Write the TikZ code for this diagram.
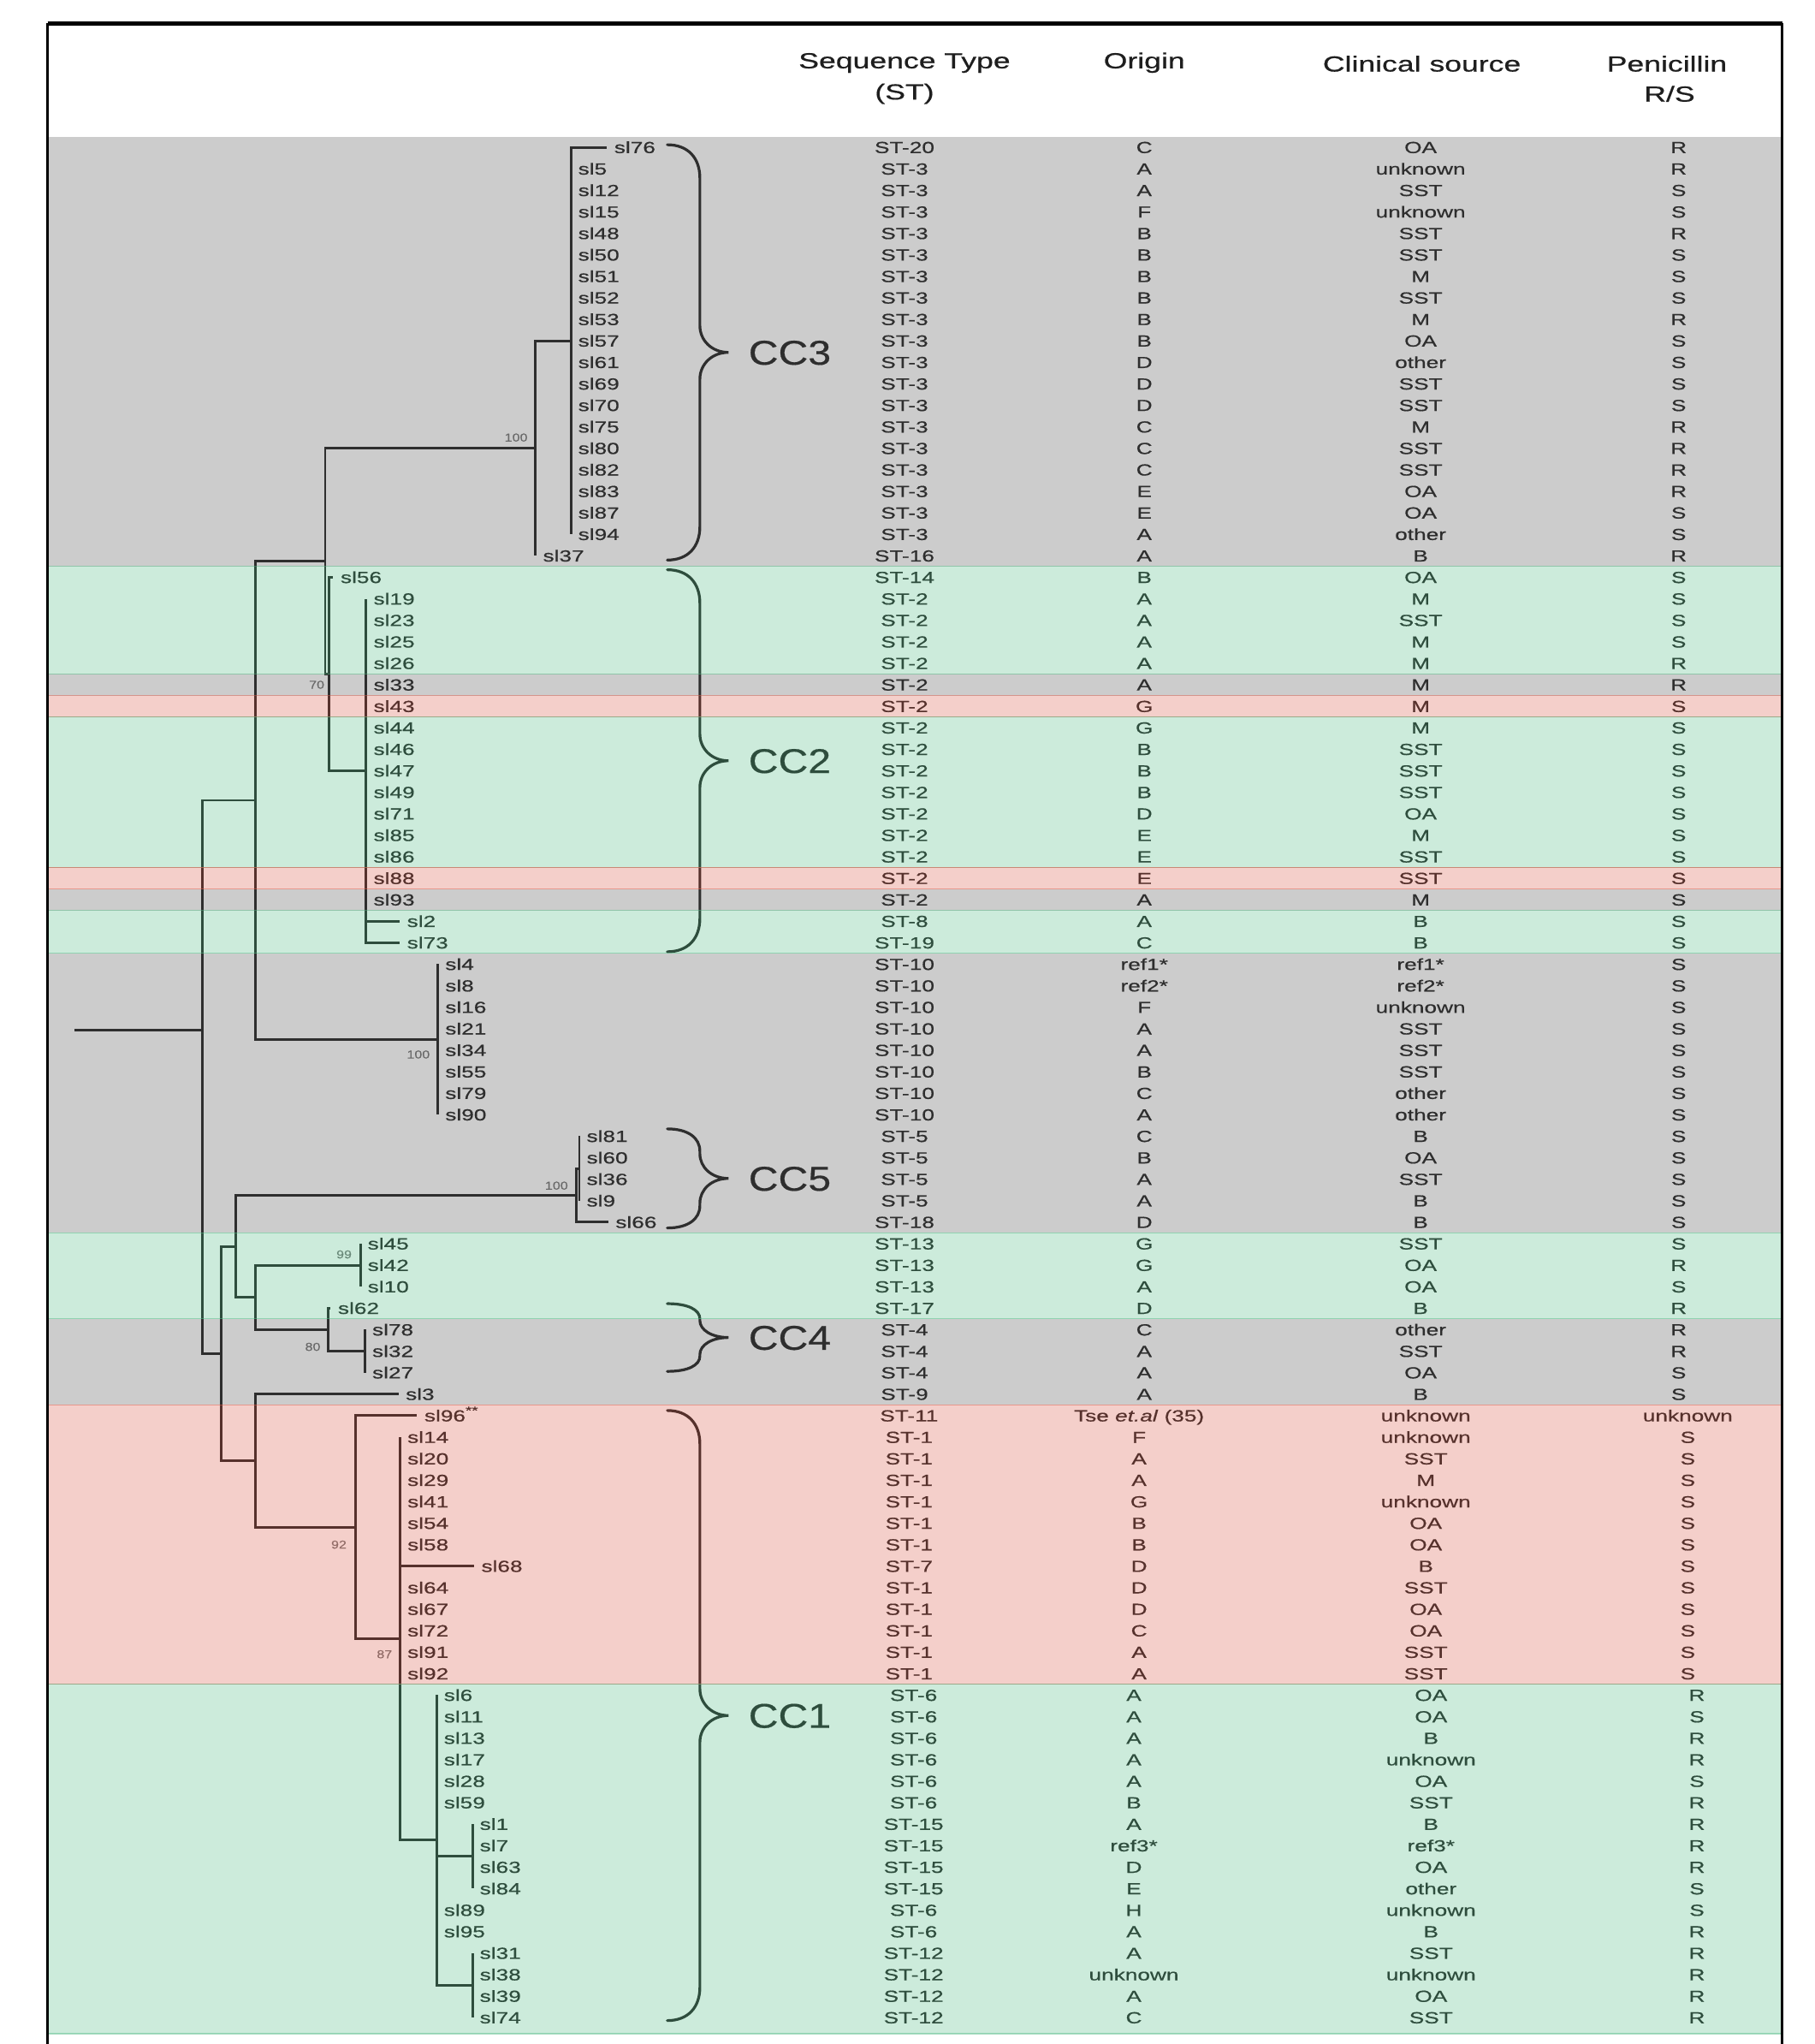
\documentclass[tikz,border=0pt]{standalone}
\usepackage{fontspec}
\setmainfont{Liberation Sans}[FakeStretch=1.4, FakeBold=0.6]
\newfontfamily\cladefont{Liberation Sans}[FakeStretch=1.2, FakeBold=0.4]
\usetikzlibrary{calc}
\definecolor{bandgray}{RGB}{85,85,85}
\definecolor{bandgreen}{RGB}{85,188,135}
\definecolor{bandpink}{RGB}{218,95,78}
\definecolor{ink}{RGB}{30,30,30}
\tikzset{
  head/.style={font=\fontsize{9.5}{11}\selectfont, inner sep=0pt,
               text height=7pt, text depth=0pt, text=ink},
  cell/.style={font=\fontsize{7}{8}\selectfont, inner sep=0pt,
               text height=5pt, text depth=0pt, text=ink},
  tip/.style={cell, anchor=west, inner xsep=3pt},
  boot/.style={font=\cladefont\fontsize{5}{6}\selectfont, inner sep=0pt, text=black!55},
  cclabel/.style={font=\cladefont\fontsize{15}{17}\selectfont, anchor=west, inner sep=0pt,
                  text height=10.7pt, text depth=0pt, text=ink},
  branch/.style={draw=ink, line width=1.1pt},
  cbrace/.style={draw=ink, line width=1.2pt, line cap=round},
  band/.style={fill=#1, fill opacity=0.3, draw=#1, draw opacity=0.5, line width=0.4pt},
  plainband/.style={fill=#1, fill opacity=0.3},
}
% tips of one clade: parent, x, list name/row
\newcommand\clade[3]{%
  \foreach \n/\r in {#3}{%
    \node[tip] (\n) at (#2,\r) {\n};
    \draw[branch] (#1) |- (\n.west);
  }}
% curly bracket: top row, bottom row, label
\newcommand\ccbrace[3]{%
  \pgfmathsetmacro\bm{(#1+#2)/2}
  \pgfmathsetmacro\bh{(#2-#1)/2}
  \pgfmathsetmacro\ea{min(1.55,0.45*\bh)}
  \pgfmathsetmacro\eb{min(1.25,0.5*\bh)}
  \draw[cbrace] (512,#1) .. controls (528,#1) and (537,#1+0.4*\ea) .. (537,#1+\ea)
    -- (537,\bm-\eb) .. controls (537,\bm-0.45*\eb) and (546,\bm) .. (559,\bm)
    .. controls (546,\bm) and (537,\bm+0.45*\eb) .. (537,\bm+\eb)
    -- (537,#2-\ea) .. controls (537,#2-0.4*\ea) and (528,#2) .. (512,#2);
  \node[cclabel] (lbl#3) at (574,\bm) {#3};
}

\begin{document}
\begin{tikzpicture}[x=0.2mm, y=-3.298mm]
  \useasboundingbox (0,-5.853) rectangle (1392,89.23);

  % header
  \node[head] (hst)  at (694,-3.05) {Sequence Type};
  \node[head] (hst2) at (694,-1.6) {(ST)};
  \node[head] (hor)  at (878,-3.05) {Origin};
  \node[head] (hcs)  at (1091,-2.9) {Clinical source};
  \node[head] (hpr)  at (1279,-2.9) {Penicillin};
  \node[head] (hpr2) at (1281,-1.5) {R/S};

  % table
  \foreach \i/\vST/\vOr/\vCs/\vPr in {
    1/ST-20/C/OA/R, 2/ST-3/A/unknown/R, 3/ST-3/A/SST/S, 4/ST-3/F/unknown/S,
    5/ST-3/B/SST/R, 6/ST-3/B/SST/S, 7/ST-3/B/M/S, 8/ST-3/B/SST/S,
    9/ST-3/B/M/R, 10/ST-3/B/OA/S, 11/ST-3/D/other/S, 12/ST-3/D/SST/S,
    13/ST-3/D/SST/S, 14/ST-3/C/M/R, 15/ST-3/C/SST/R, 16/ST-3/C/SST/R,
    17/ST-3/E/OA/R, 18/ST-3/E/OA/S, 19/ST-3/A/other/S, 20/ST-16/A/B/R,
    21/ST-14/B/OA/S, 22/ST-2/A/M/S, 23/ST-2/A/SST/S, 24/ST-2/A/M/S,
    25/ST-2/A/M/R, 26/ST-2/A/M/R, 27/ST-2/G/M/S, 28/ST-2/G/M/S,
    29/ST-2/B/SST/S, 30/ST-2/B/SST/S, 31/ST-2/B/SST/S, 32/ST-2/D/OA/S,
    33/ST-2/E/M/S, 34/ST-2/E/SST/S, 35/ST-2/E/SST/S, 36/ST-2/A/M/S,
    37/ST-8/A/B/S, 38/ST-19/C/B/S, 39/ST-10/ref1*/ref1*/S, 40/ST-10/ref2*/ref2*/S,
    41/ST-10/F/unknown/S, 42/ST-10/A/SST/S, 43/ST-10/A/SST/S, 44/ST-10/B/SST/S,
    45/ST-10/C/other/S, 46/ST-10/A/other/S, 47/ST-5/C/B/S, 48/ST-5/B/OA/S,
    49/ST-5/A/SST/S, 50/ST-5/A/B/S, 51/ST-18/D/B/S, 52/ST-13/G/SST/S,
    53/ST-13/G/OA/R, 54/ST-13/A/OA/S, 55/ST-17/D/B/R, 56/ST-4/C/other/R,
    57/ST-4/A/SST/R, 58/ST-4/A/OA/S, 59/ST-9/A/B/S,
    60/ST-11/{Tse \textit{et.al} (35)}/unknown/unknown,
    61/ST-1/F/unknown/S, 62/ST-1/A/SST/S, 63/ST-1/A/M/S, 64/ST-1/G/unknown/S,
    65/ST-1/B/OA/S, 66/ST-1/B/OA/S, 67/ST-7/D/B/S, 68/ST-1/D/SST/S,
    69/ST-1/D/OA/S, 70/ST-1/C/OA/S, 71/ST-1/A/SST/S, 72/ST-1/A/SST/S,
    73/ST-6/A/OA/R, 74/ST-6/A/OA/S, 75/ST-6/A/B/R, 76/ST-6/A/unknown/R,
    77/ST-6/A/OA/S, 78/ST-6/B/SST/R, 79/ST-15/A/B/R, 80/ST-15/ref3*/ref3*/R,
    81/ST-15/D/OA/R, 82/ST-15/E/other/S, 83/ST-6/H/unknown/S, 84/ST-6/A/B/R,
    85/ST-12/A/SST/R, 86/ST-12/unknown/unknown/R, 87/ST-12/A/OA/R, 88/ST-12/C/SST/R}{
    \pgfmathsetmacro\f{\i>72 ? 1 : (\i>59 ? 0.5 : 0)}
    \node[cell] (st\i) at (694+7*\f,\i) {\vST};
    \node[cell] (or\i) at (878-8*\f,\i) {\vOr};
    \node[cell] (cs\i) at (1090+8*\f,\i) {\vCs};
    \node[cell] (pr\i) at (1288+14*\f,\i) {\vPr};
  }

  % tree
  \coordinate (root) at (57,42.06);
  \coordinate (top)   at (155,44.24);
  \coordinate (upper) at (196,31.375);
  \coordinate (lower) at (169.5,57.11);
  \coordinate (cc23)  at (249.5,20.25);
  \coordinate (st10)  at (336,42.5);
  \coordinate (cc3)   at (411,15);
  \coordinate (cc3a)  at (438,10);
  \coordinate (cc2)   at (252.5,25.5);
  \coordinate (cc2a)  at (281,30);
  \coordinate (lowA)  at (181,52.125);
  \coordinate (cc5)   at (442,49.75);
  \coordinate (cc5a)  at (444.5,48.5);
  \coordinate (lowB)  at (196,54.5);
  \coordinate (st13)  at (276.5,53);
  \coordinate (cc4)   at (252,56);
  \coordinate (cc4a)  at (280,57);
  \coordinate (lowC)  at (196,62.09);
  \coordinate (cc1)   at (273,65.19);
  \coordinate (cc1a)  at (307,70.375);
  \coordinate (cc1b)  at (335,79.75);
  \coordinate (st15)  at (362.5,80.5);
  \coordinate (st12)  at (362.5,86.5);

  \draw[branch] (root) -- (root -| top);
  \foreach \p/\c in {top/upper, top/lower, upper/cc23, upper/st10, cc23/cc3, cc23/cc2,
      cc3/cc3a, cc2/cc2a, lower/lowA, lower/lowC, lowA/cc5, lowA/lowB, cc5/cc5a,
      lowB/st13, lowB/cc4, cc4/cc4a, lowC/cc1, cc1/cc1a, cc1a/cc1b, cc1b/st15, cc1b/st12}
    \draw[branch] (\p) |- (\c);

  \clade{cc3a}{465.7}{sl76/1}
  \clade{cc3a}{438}{sl5/2,sl12/3,sl15/4,sl48/5,sl50/6,sl51/7,sl52/8,sl53/9,sl57/10,
    sl61/11,sl69/12,sl70/13,sl75/14,sl80/15,sl82/16,sl83/17,sl87/18,sl94/19}
  \clade{cc3}{411}{sl37/20}
  \clade{cc2}{255.7}{sl56/21}
  \clade{cc2a}{281}{sl19/22,sl23/23,sl25/24,sl26/25,sl33/26,sl43/27,sl44/28,sl46/29,
    sl47/30,sl49/31,sl71/32,sl85/33,sl86/34,sl88/35,sl93/36}
  \clade{cc2a}{306.7}{sl2/37,sl73/38}
  \clade{st10}{336}{sl4/39,sl8/40,sl16/41,sl21/42,sl34/43,sl55/44,sl79/45,sl90/46}
  \clade{cc5a}{444.5}{sl81/47,sl60/48,sl36/49,sl9/50}
  \clade{cc5}{466.7}{sl66/51}
  \clade{st13}{276.5}{sl45/52,sl42/53,sl10/54}
  \clade{cc4}{253.7}{sl62/55}
  \clade{cc4a}{280}{sl78/56,sl32/57,sl27/58}
  \clade{lowC}{305.7}{sl3/59}
  \node[tip] (sl96) at (320,60) {sl96\textsuperscript{**}};
  \draw[branch] (cc1) |- (sl96.west);
  \clade{cc1a}{307}{sl14/61,sl20/62,sl29/63,sl41/64,sl54/65,sl58/66,sl64/68,sl67/69,
    sl72/70,sl91/71,sl92/72}
  \clade{cc1a}{363.7}{sl68/67}
  \clade{cc1b}{335}{sl6/73,sl11/74,sl13/75,sl17/76,sl28/77,sl59/78,sl89/83,sl95/84}
  \clade{st15}{362.5}{sl1/79,sl7/80,sl63/81,sl84/82}
  \clade{st12}{362.5}{sl31/85,sl38/86,sl39/87,sl74/88}

  % bootstrap values
  \node[boot] (bs1) at (396,14.5) {100};
  \node[boot] (bs2) at (243,26.0) {70};
  \node[boot] (bs3) at (321,43.2) {100};
  \node[boot] (bs4) at (427,49.3) {100};
  \node[boot] (bs5) at (264,52.5) {99};
  \node[boot] (bs6) at (240,56.8) {80};
  \node[boot] (bs7) at (260,66.0) {92};
  \node[boot] (bs8) at (295,71.1) {87};

  \ccbrace{0.88}{20.2}{CC3}
  \ccbrace{20.65}{38.42}{CC2}
  \ccbrace{46.66}{51.27}{CC5}
  \ccbrace{54.79}{57.94}{CC4}
  \ccbrace{59.76}{88.14}{CC1}

  % coloured rows
  \foreach \a/\b/\c in {0.5/20.5/bandgray, 25.5/26.5/bandgray, 35.5/36.5/bandgray,
      38.5/51.5/bandgray, 55.5/59.5/bandgray}
    \fill[plainband=\c] (37,\a) rectangle (1366.5,\b);
  \foreach \a/\b/\c in {20.5/25.5/bandgreen, 26.5/27.5/bandpink, 27.5/34.5/bandgreen,
      34.5/35.5/bandpink, 36.5/38.5/bandgreen, 51.5/55.5/bandgreen,
      59.5/72.5/bandpink, 72.5/88.75/bandgreen}
    \path[band=\c] (37,\a) rectangle (1366.5,\b);

  % frame
  \draw[line width=1pt] (36.5,89.23) -- (36.5,-4.76);
  \draw[line width=1pt] (1367.5,89.23) -- (1367.5,-4.76);
  \draw[line width=1.6pt] (36.5,-4.76) -- (1367.5,-4.76);
\end{tikzpicture}
\end{document}
